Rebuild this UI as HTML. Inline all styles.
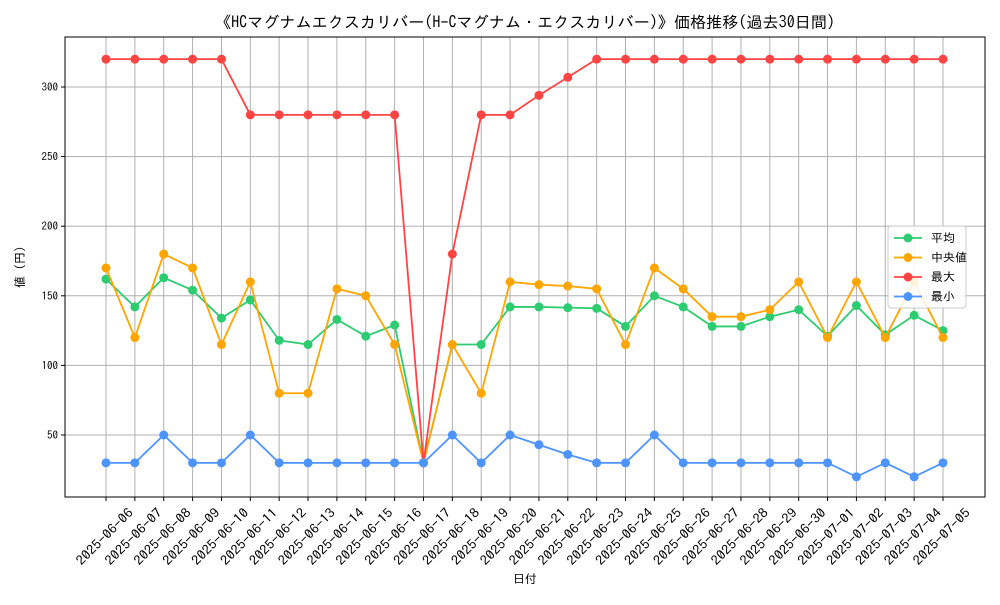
<!DOCTYPE html>
<html><head><meta charset="utf-8"><style>
body{margin:0;background:#fff}
svg text{font-family:"IPAGothic","Noto Sans CJK JP",sans-serif;fill:#000}
</style></head><body>
<svg id="chart" width="1000" height="600" xmlns="http://www.w3.org/2000/svg">
<rect width="1000" height="600" fill="#fff"/>
<text x="525" y="28" font-size="16" text-anchor="middle" textLength="620" lengthAdjust="spacingAndGlyphs">《HCマグナムエクスカリバー(H-Cマグナム・エクスカリバー)》価格推移(過去30日間)</text>
<g id="grid"></g><g id="axes"></g><g id="series"></g>
<text x="525" y="583" font-size="12" text-anchor="middle">日付</text>
<text x="0" y="0" font-size="12" text-anchor="middle" transform="translate(24,267) rotate(-90)">値 (円)</text>
<g id="legend"></g>
</svg>
<script>
const dates=["2025-06-06","2025-06-07","2025-06-08","2025-06-09","2025-06-10","2025-06-11","2025-06-12","2025-06-13","2025-06-14","2025-06-15","2025-06-16","2025-06-17","2025-06-18","2025-06-19","2025-06-20","2025-06-21","2025-06-22","2025-06-23","2025-06-24","2025-06-25","2025-06-26","2025-06-27","2025-06-28","2025-06-29","2025-06-30","2025-07-01","2025-07-02","2025-07-03","2025-07-04","2025-07-05"];
const meanVals=[162,142,163,154,134,147,118,115,133,121,129,30,115,115,142,142,141.5,141,128,150,142,128,128,135,140,121,143,122,136,125];
const medianVals=[170,120,180,170,115,160,80,80,155,150,115,30,115,80,160,158,157,155,115,170,155,135,135,140,160,120,160,120,160,120];
const maxVals=[320,320,320,320,320,280,280,280,280,280,280,30,180,280,280,294,307,320,320,320,320,320,320,320,320,320,320,320,320,320];
const minVals=[30,30,50,30,30,50,30,30,30,30,30,30,50,30,50,43,36,30,30,50,30,30,30,30,30,30,20,30,20,30];
const yTicks=[50,100,150,200,250,300];
const seriesNames=["平均","中央値","最大","最小"];
const NS="http://www.w3.org/2000/svg";
const L=65,R=985,T=37,B=497;
const X=i=>106+i*(943-106)/(dates.length-1);
const Y=v=>504.6-v*1.392;
function mk(tag,attrs,parent){const e=document.createElementNS(NS,tag);for(const k in attrs)e.setAttribute(k,attrs[k]);parent.appendChild(e);return e;}
const grid=document.getElementById('grid'),axes=document.getElementById('axes'),ser=document.getElementById('series'),leg=document.getElementById('legend');
dates.forEach((d,i)=>{
 const g=mk('line',{x1:X(i),x2:X(i),y1:T,y2:B,stroke:'#b0b0b0','stroke-width':1},grid);
 
 
 mk('line',{x1:X(i),x2:X(i),y1:B,y2:B+4,stroke:'#000'},axes);
 const t=mk('text',{x:0,y:4,'font-size':13,'text-anchor':'middle',textLength:74,lengthAdjust:'spacingAndGlyphs',transform:`translate(${X(i)-1},${B+40}) rotate(-45)`},axes);
 t.textContent=d;
 
 
});
yTicks.forEach(v=>{
 const g=mk('line',{x1:L,x2:R,y1:Y(v),y2:Y(v),stroke:'#b0b0b0','stroke-width':1},grid);
 
 
 mk('line',{x1:L-4,x2:L,y1:Y(v),y2:Y(v),stroke:'#000'},axes);
 const t=mk('text',{x:L-7,y:Y(v)+4,'font-size':11,'text-anchor':'end'},axes);
 t.textContent=v;
 
 
});
const frame=mk('rect',{x:L,y:T,width:R-L,height:B-T,fill:'none',stroke:'#000','stroke-width':1},axes);


const all=[meanVals,medianVals,maxVals,minVals];
const colors=["#2ecc71","#ffa500","#ff4444","#4d94ff"];
const keys=["mean","median","max","min"];
all.forEach((vals,s)=>{
 const g=mk('g',{},ser);
 
 
 const p=mk('polyline',{points:vals.map((v,i)=>X(i)+','+Y(v)).join(' '),fill:'none',stroke:colors[s],'stroke-width':1.8},g);
 
 
 vals.forEach((v,i)=>{
  const c=mk('circle',{cx:X(i),cy:Y(v),r:4.5,fill:colors[s]},g);
  
  
 });
});
const box=mk('rect',{x:888,y:226,width:78,height:82,fill:'#fff','fill-opacity':0.85,stroke:'#ccc',rx:3},leg);


seriesNames.forEach((n,s)=>{
 const y=238+s*19.5;
 const g=mk('g',{},leg);
 
 
 mk('line',{x1:894,x2:922,y1:y,y2:y,stroke:colors[s],'stroke-width':1.8},g);
 mk('circle',{cx:908,cy:y,r:4.5,fill:colors[s]},g);
 const t=mk('text',{x:931,y:y+4,'font-size':12},g);
 t.textContent=n;
});
</script>
</body></html>
